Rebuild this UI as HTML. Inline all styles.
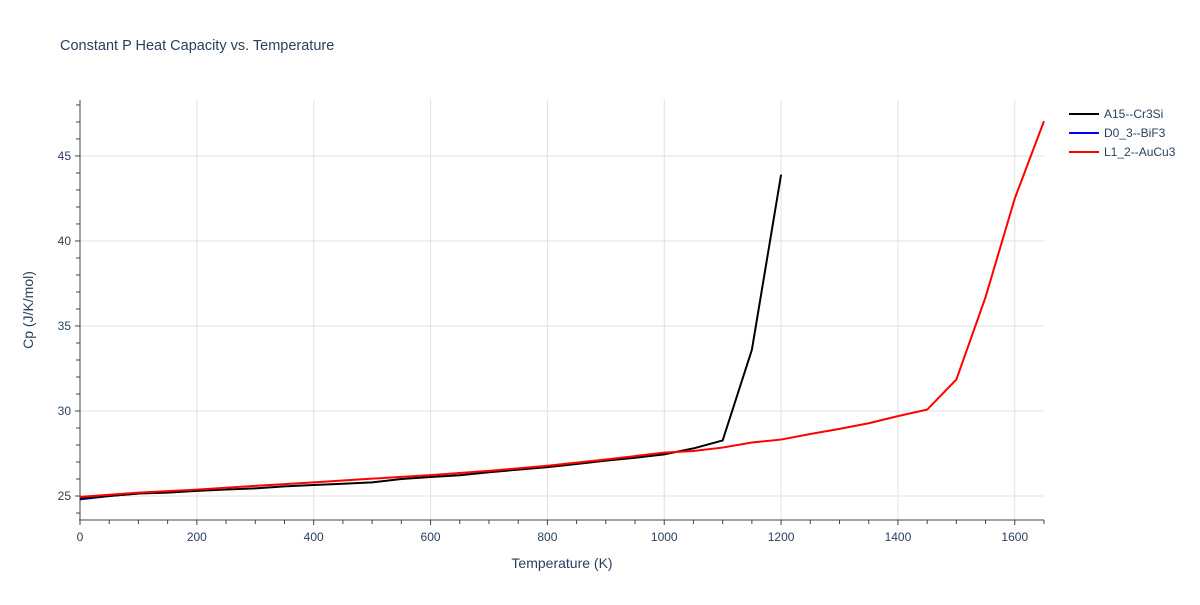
<!DOCTYPE html>
<html><head><meta charset="utf-8"><style>
body{margin:0;background:#fff;font-family:"Liberation Sans",sans-serif;}
svg text{font-family:"Liberation Sans",sans-serif;fill:#2a3f5f;}
</style></head><body>
<svg id="chart" width="1200" height="600">
<text x="60" y="50" font-size="14.5">Constant P Heat Capacity vs. Temperature</text>
<g id="grid"></g><g id="axes"></g><g id="series"></g>
<text x="562" y="568" font-size="14" text-anchor="middle">Temperature (K)</text>
<text transform="translate(33,310) rotate(-90)" font-size="14" text-anchor="middle">Cp (J/K/mol)</text>
<g id="legend"></g>
</svg>
<script>
const xTicks=[0,200,400,600,800,1000,1200,1400,1600];
const yTicks=[25,30,35,40,45];
const seriesNames=["A15--Cr3Si","D0_3--BiF3","L1_2--AuCu3"];
const seriesColors=["#000000","#0000ff","#ff0000"];
const a15T=[0,50,100,150,200,250,300,350,400,450,500,550,600,650,700,750,800,850,900,950,1000,1050,1100,1150,1200];
const a15Cp=[24.85,25.0,25.15,25.2,25.3,25.38,25.45,25.57,25.65,25.72,25.8,26.0,26.12,26.22,26.4,26.55,26.7,26.88,27.08,27.25,27.45,27.8,28.27,33.6,43.9];
const d03T=[0,50,100];
const d03Cp=[24.8,25.0,25.15];
const l12T=[0,100,200,300,400,500,600,700,800,900,1000,1050,1100,1150,1200,1250,1300,1350,1400,1450,1500,1550,1600,1650];
const l12Cp=[24.95,25.2,25.38,25.6,25.8,26.02,26.23,26.48,26.78,27.15,27.55,27.65,27.85,28.15,28.32,28.65,28.95,29.28,29.7,30.08,31.85,36.7,42.5,47.05];
const X0=80,X1=1044,Y0=520,Y1=100,xMin=0,xMax=1650,yMin=23.59,yMax=48.29;
const sx=v=>X0+(v-xMin)/(xMax-xMin)*(X1-X0);
const sy=v=>Y0-(v-yMin)/(yMax-yMin)*(Y0-Y1);
const NS="http://www.w3.org/2000/svg";
function mk(p,tag,at){const e=document.createElementNS(NS,tag);for(const k in at)e.setAttribute(k,at[k]);p.appendChild(e);return e;}
const grid=document.getElementById('grid'),axes=document.getElementById('axes'),ser=document.getElementById('series'),leg=document.getElementById('legend');
xTicks.forEach(t=>{
 if(t>0){const g=mk(grid,'line',{x1:sx(t),x2:sx(t),y1:Y1,y2:Y0,stroke:'#e1e1e1'});
 
 }
 const l=mk(axes,'text',{x:sx(t),y:541,'font-size':12,'text-anchor':'middle'});l.textContent=t;
 
 
});
yTicks.forEach(t=>{
 const g=mk(grid,'line',{x1:X0,x2:X1,y1:sy(t),y2:sy(t),stroke:'#e1e1e1'});
 
 
 const l=mk(axes,'text',{x:71,y:sy(t)+4,'font-size':12,'text-anchor':'end'});l.textContent=t;
 
 
});
for(let v=0;v<=xMax;v+=50){mk(axes,'line',{x1:sx(v),x2:sx(v),y1:Y0,y2:Y0+(v%200===0?5:4),stroke:'#444'});}
for(let v=24;v<=48;v+=1){mk(axes,'line',{x1:X0,x2:X0-(v%5===0?5:4),y1:sy(v),y2:sy(v),stroke:'#444'});}
mk(axes,'line',{x1:X0,x2:X0,y1:Y1,y2:Y0+1,stroke:'#444'});
mk(axes,'line',{x1:X0-1,x2:X1,y1:Y0,y2:Y0,stroke:'#444'});
const data=[[a15T,a15Cp],[d03T,d03Cp],[l12T,l12Cp]];
[1,0,2].forEach(i=>{
 const [xs,ys]=data[i];
 const p=mk(ser,'polyline',{points:xs.map((x,j)=>sx(x)+','+sy(ys[j])).join(' '),fill:'none',stroke:seriesColors[i],'stroke-width':2});
 
 
});
seriesNames.forEach((n,i)=>{
 const y=114+i*19;
 const g=mk(leg,'g',{});
 
 
 mk(g,'line',{x1:1069,x2:1099,y1:y,y2:y,stroke:seriesColors[i],'stroke-width':2});
 const t=mk(g,'text',{x:1104,y:y+4,'font-size':12});t.textContent=n;
});
</script>
</body></html>
